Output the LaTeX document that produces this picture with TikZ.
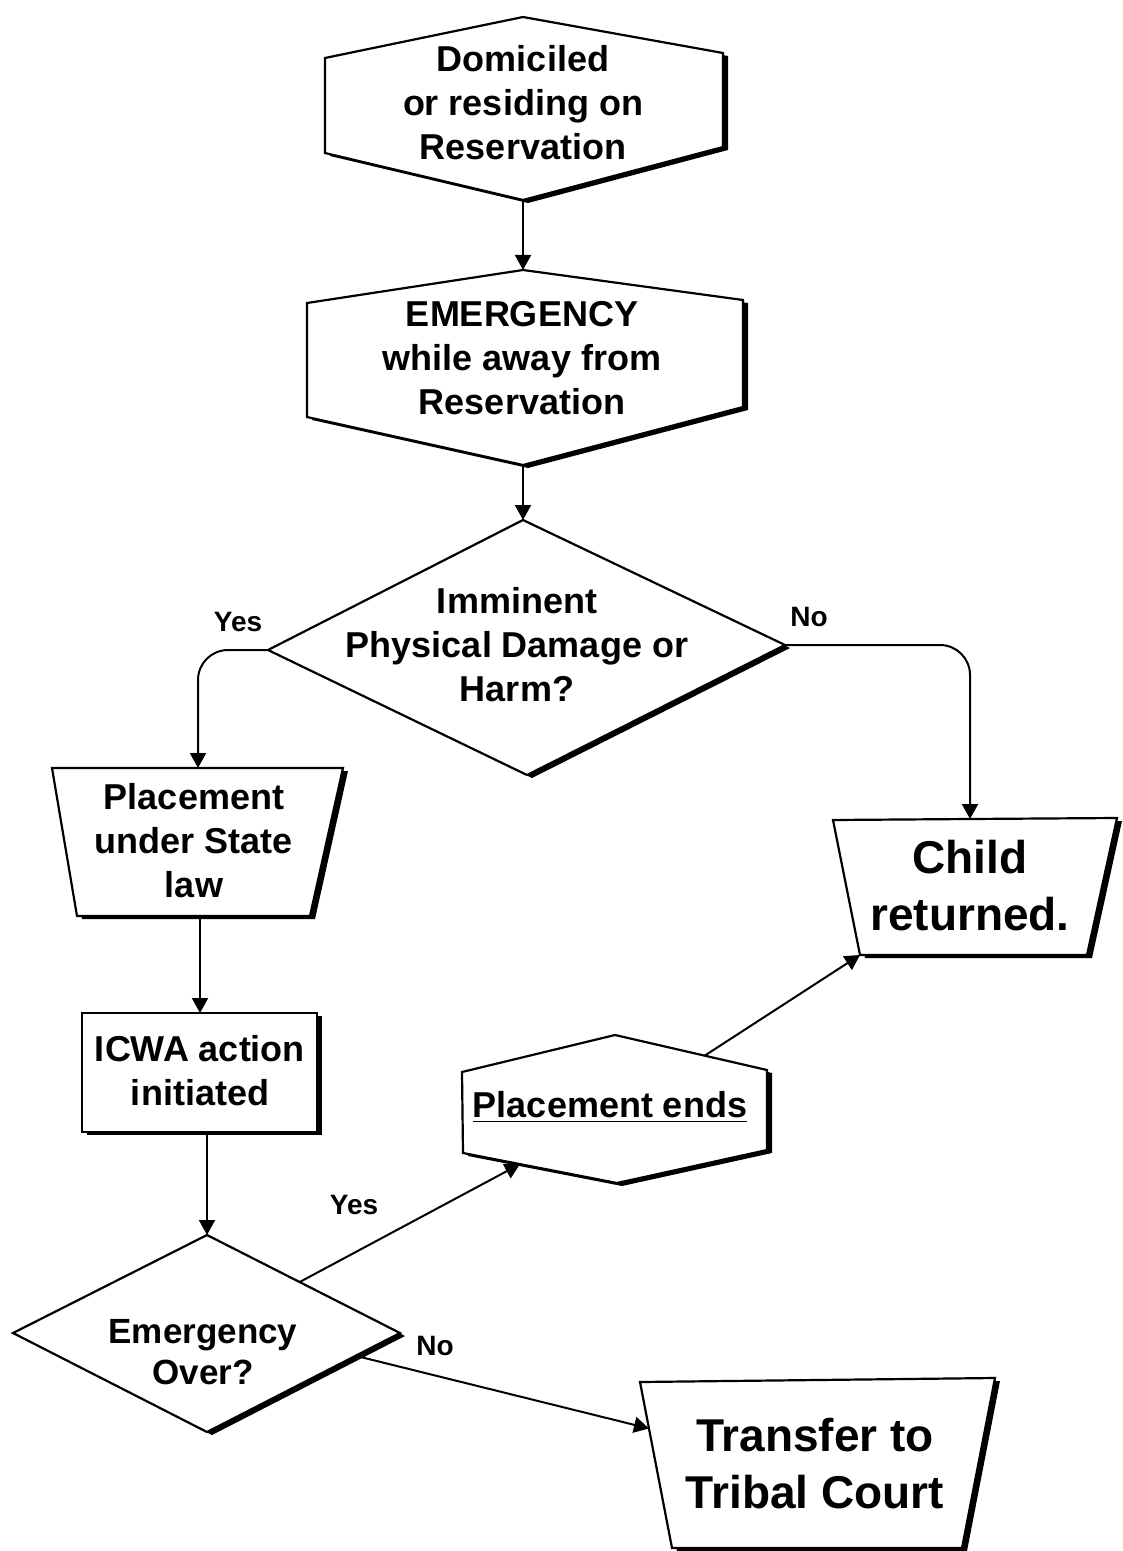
\documentclass[tikz,border=0pt]{standalone}
\usepackage{fontspec}
\setmainfont{Liberation Sans}
\usetikzlibrary{shadows,arrows.meta,calc}

\begin{document}
\begin{tikzpicture}
[x=0.5pt,y=-0.5pt,
 every node/.style={align=center,inner sep=0pt},
 outline/.style={draw,line width=1.1pt,fill=white,
   drop shadow={shadow xshift=2.5pt,shadow yshift=-1.5pt,opacity=1,fill=black}},
 txt/.style={font=\bfseries\fontsize{18}{22}\selectfont},
 bigtxt/.style={font=\bfseries\fontsize{23}{28.5}\selectfont},
 answer/.style={font=\bfseries\fontsize{14}{16}\selectfont},
 link/.style={line width=1pt,-{Triangle[length=7.5pt,width=8pt]}}]
    \useasboundingbox (0,0) rectangle (1123,1551);
    % shapes
    \draw[outline] (523,17) coordinate (dom-n) -- (723,53) -- (723,147)
        -- (523,200) coordinate (dom-s) -- (325,153) -- (325,58) -- cycle;
    \draw[outline] (523,270) coordinate (emg-n) -- (743,300) -- (743,407)
        -- (523,465) coordinate (emg-s) -- (307,417) -- (307,303) -- cycle;
    \draw[outline] (523,520) coordinate (harm-n) -- (785,645) coordinate (harm-e)
        -- (527,775) -- (268,650) coordinate (harm-w) -- cycle;
    \draw[outline] (52,768) -- (198,768) coordinate (state-n) -- (343,768)
        -- (310,916) -- (200,916) coordinate (state-s) -- (77,916) -- cycle;
    \draw[outline] (833,820) -- (970,819) coordinate (back-n) -- (1117,818)
        -- (1087,955) -- (860,955) coordinate (back-sw) -- cycle;
    \draw[outline] (82,1013) rectangle (317,1132);
    \coordinate (icwa-n) at (200,1013);
    \coordinate (icwa-s) at (207,1132);
    \draw[outline] (615,1035) coordinate (ends-n) -- (767,1070) coordinate (ends-ne)
        -- (767,1150) -- (617,1183) coordinate (ends-s) -- (463,1153) coordinate (ends-sw)
        -- (462,1072) -- cycle;
    \draw[outline] (207,1235) coordinate (over-n) -- (400,1333) coordinate (over-e)
        -- (207,1432) coordinate (over-s) -- (13,1333) -- cycle;
    \draw[outline] (640,1382) coordinate (tribal-nw) -- (995,1378) -- (962,1548)
        -- (672,1548) coordinate (tribal-sw) -- cycle;

    % texts
    \node[txt] (dom) at (523,103) {Domiciled\\or residing on\\Reservation};
    \node[txt] (emg) at (522,358) {EMERGENCY\\while away from\\Reservation};
    \node[txt] (harm) at (517,645) {Imminent\\Physical Damage or\\Harm?};
    \node[txt] (state) at (194,841) {Placement\\under State\\law};
    \node[bigtxt] (back) at (970,886) {Child\\returned.};
    \node[txt] (icwa) at (200,1071) {ICWA action\\initiated};
    \node[txt] (ends) at (610,1107) {\underline{Placement ends}};
    \node[txt,font=\bfseries\fontsize{17.5}{20.5}\selectfont] (over) at (203,1352) {Emergency\\Over?};
    \node[bigtxt] (tribal) at (815,1464) {Transfer to\\Tribal Court};
    \node[answer] (yes1) at (238,622) {Yes};
    \node[answer] (no1) at (809,617) {No};
    \node[answer] (yes2) at (354,1205) {Yes};
    \node[answer] (no2) at (435,1346) {No};

    % connectors
    \draw[link] (dom-s) -- (emg-n);
    \draw[link] (emg-s) -- (harm-n);
    \draw[link,rounded corners=15] (harm-w) -| (state-n);
    \draw[link,rounded corners=15] (harm-e) -| (back-n);
    \draw[link] (state-s) -- (icwa-n);
    \draw[link] (icwa-s) -- (over-n);
    \draw[link] ($(over-n)!0.48!(over-e)$) -- ($(ends-sw)!0.37!(ends-s)$);
    \draw[link] ($(ends-n)!0.59!(ends-ne)$) -- (back-sw);
    \draw[link] ($(over-e)!0.23!(over-s)$) -- ($(tribal-nw)!0.28!(tribal-sw)$);
\end{tikzpicture}
\end{document}
